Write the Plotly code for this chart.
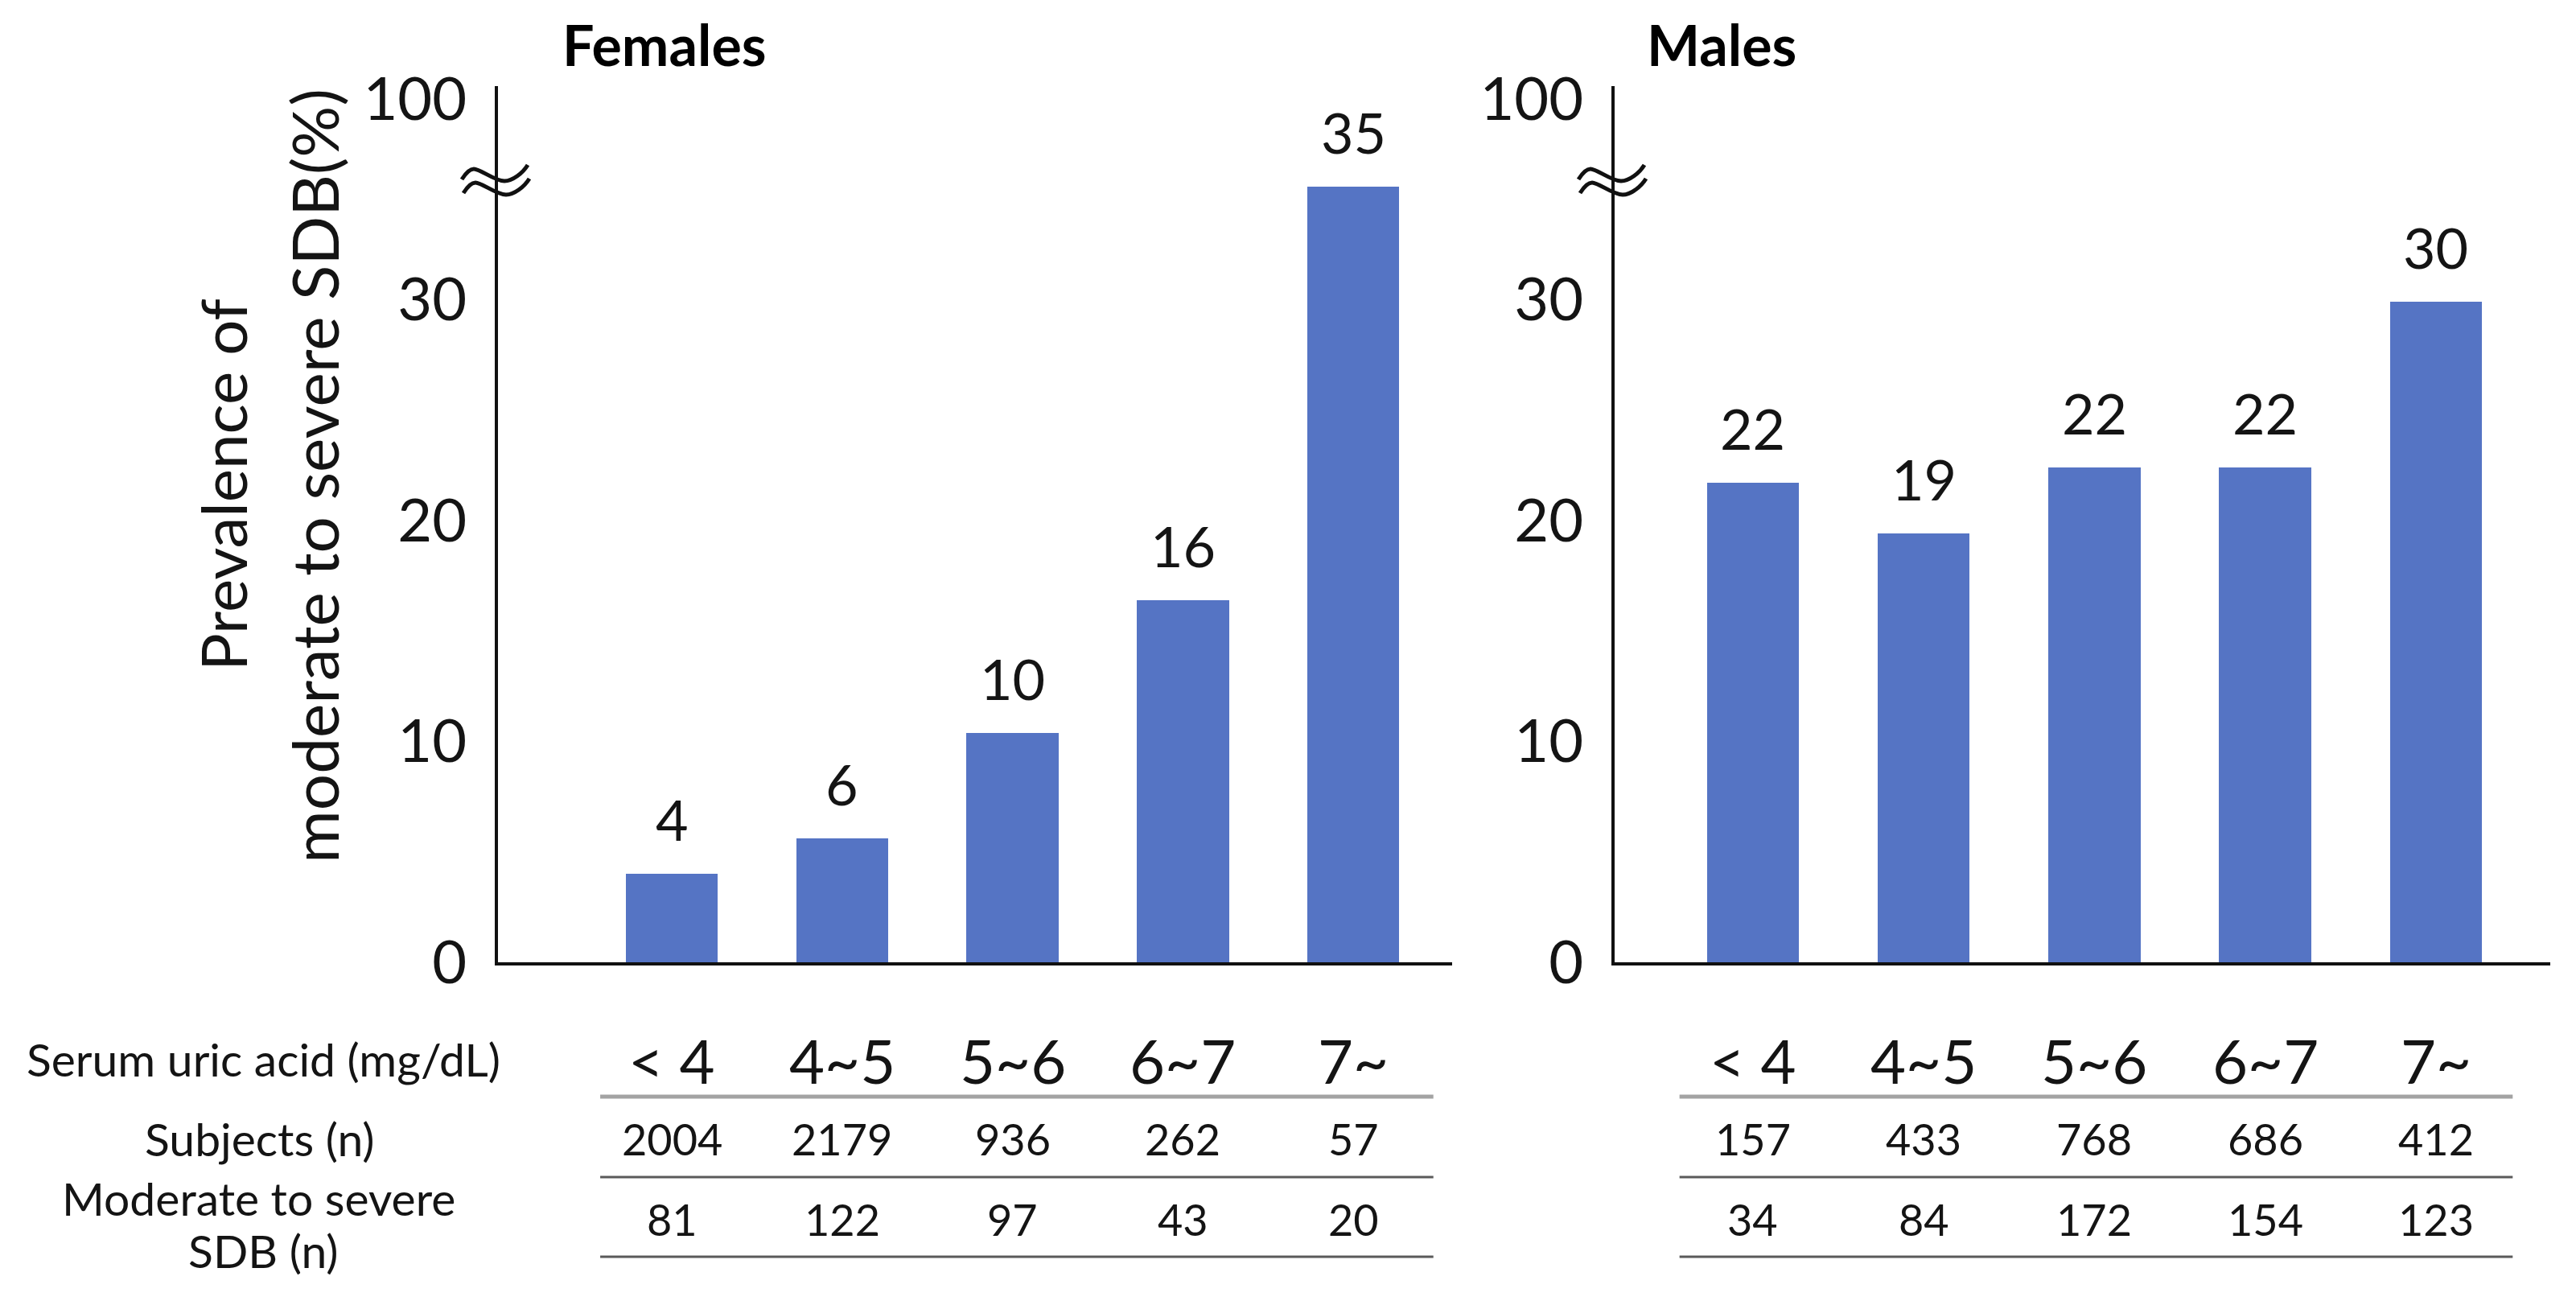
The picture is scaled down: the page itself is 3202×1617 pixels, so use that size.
import plotly.graph_objects as go

# ---------------- data ----------------
categories = ["< 4", "4~5", "5~6", "6~7", "7~"]
female_prev = [4.0, 5.6, 10.4, 16.4, 35.1]
male_prev = [21.7, 19.4, 22.4, 22.4, 29.9]
female_subjects = [2004, 2179, 936, 262, 57]
female_sdb = [81, 122, 97, 43, 20]
male_subjects = [157, 433, 768, 686, 412]
male_sdb = [34, 84, 172, 154, 123]
ytick_vals = [0, 10, 20, 30, 39.07]
ytick_text = ["0", "10", "20", "30", "100"]
break_value = 35.37
row_labels = ["Serum uric acid (mg/dL)", "Subjects (n)", "Moderate to severe", "SDB (n)"]
ytitle_lines = ["Prevalence of", "moderate to severe SDB(%)"]
panel_titles = ["Females", "Males"]

# ---------------- style / page geometry ----------------
PAGE_W, PAGE_H = 3202, 1617
OFF = 8                      # default body margin of the html page
W, H = PAGE_W - 2 * OFF, PAGE_H - 2 * OFF
BAR = "#5574C4"
TXT = "#141414"
FONT = "Lato, 'Open Sans', sans-serif"


def px_x(p):
    return (p - OFF) / W


def px_y(p):
    return 1 - (p - OFF) / H


fig = go.Figure()
fig.add_trace(go.Bar(x=categories, y=female_prev, marker=dict(color=BAR, line=dict(width=0)),
                     width=0.54, xaxis="x", yaxis="y", hoverinfo="x+y"))
fig.add_trace(go.Bar(x=categories, y=male_prev, marker=dict(color=BAR, line=dict(width=0)),
                     width=0.54, xaxis="x2", yaxis="y2", hoverinfo="x+y"))

Y_TOP, Y_BOT = 107, 1196
ydom = [px_y(Y_BOT), px_y(Y_TOP)]
yrange = [0, 39.67]
ppu_y = (Y_BOT - Y_TOP) / (yrange[1] - yrange[0])
axis_common_y = dict(range=yrange, domain=ydom, showgrid=False, zeroline=False,
                     showline=True, linecolor="#111", linewidth=4, ticks="",
                     tickvals=ytick_vals, ticktext=ytick_text, automargin=False,
                     tickfont=dict(family=FONT, size=74, color=TXT),
                     ticklabelstandoff=20, fixedrange=True)
axis_common_x = dict(type="category", categoryorder="array", categoryarray=categories,
                     showgrid=False, zeroline=False, showline=True, linecolor="#111",
                     linewidth=4, ticks="", showticklabels=False, fixedrange=True,
                     automargin=False)

fx_range = [-1.02, 4.58]
mx_range = [-0.81, 4.67]
fx_dom = [619, 1805]
mx_dom = [2007, 3170]
fig.update_layout(
    width=W, height=H, autosize=False,
    margin=dict(l=0, r=0, t=0, b=0, pad=0, autoexpand=False),
    paper_bgcolor="white", plot_bgcolor="white", showlegend=False, bargap=0,
    xaxis=dict(axis_common_x, domain=[px_x(fx_dom[0]), px_x(fx_dom[1])], range=fx_range, anchor="y"),
    yaxis=dict(axis_common_y, anchor="x"),
    xaxis2=dict(axis_common_x, domain=[px_x(mx_dom[0]), px_x(mx_dom[1])], range=mx_range, anchor="y2"),
    yaxis2=dict(axis_common_y, anchor="x2"),
)

ann = []
shapes = []

# bar value labels
for xr, yr, vals in (("x", "y", female_prev), ("x2", "y2", male_prev)):
    for c, v in zip(categories, vals):
        ann.append(dict(x=c, y=v, xref=xr, yref=yr, text=str(int(round(v))), showarrow=False,
                        yanchor="bottom", yshift=24, font=dict(family=FONT, size=70, color=TXT)))

# panel titles (kept fully inside the figure)
ann.append(dict(x=px_x(826), y=px_y(55), xref="paper", yref="paper", text="<b>%s</b>" % panel_titles[0],
                showarrow=False, xanchor="center", yanchor="middle", borderpad=0,
                font=dict(family=FONT, size=70, color="#000")))
ann.append(dict(x=px_x(2140), y=px_y(55), xref="paper", yref="paper", text="<b>%s</b>" % panel_titles[1],
                showarrow=False, xanchor="center", yanchor="middle", borderpad=0,
                font=dict(family=FONT, size=70, color="#000")))

# y title (two lines)
for xpix, ypix, fs, line in zip((277, 390), (603, 592), (78, 80), ytitle_lines):
    ann.append(dict(x=px_x(xpix), y=px_y(ypix), xref="paper", yref="paper", text=line,
                    showarrow=False, textangle=-90, xanchor="center", yanchor="middle",
                    font=dict(family=FONT, size=fs, color=TXT)))

# table
row_y = [1317, 1415, 1515]
for xr, subj, sdb in (("x", female_subjects, female_sdb), ("x2", male_subjects, male_sdb)):
    for i, c in enumerate(categories):
        ann.append(dict(x=c, y=px_y(row_y[0]), xref=xr, yref="paper",
                        text=c.replace("<", "&lt;"), showarrow=False, yanchor="middle",
                        font=dict(family=FONT, size=76, color=TXT)))
        ann.append(dict(x=c, y=px_y(row_y[1]), xref=xr, yref="paper", text=str(subj[i]),
                        showarrow=False, yanchor="middle", font=dict(family=FONT, size=54, color=TXT)))
        ann.append(dict(x=c, y=px_y(row_y[2]), xref=xr, yref="paper", text=str(sdb[i]),
                        showarrow=False, yanchor="middle", font=dict(family=FONT, size=54, color=TXT)))

# row labels
for (xpix, ypix), lab in zip(((327, 1316), (323, 1415), (321, 1489), (327, 1554)), row_labels):
    ann.append(dict(x=px_x(xpix), y=px_y(ypix), xref="paper", yref="paper", text=lab,
                    showarrow=False, xanchor="center", yanchor="middle",
                    font=dict(family=FONT, size=57, color=TXT)))

# table rules
for xr, (x0, x1) in (("x", (-0.42, 4.47)), ("x2", (-0.43, 4.45))):
    shapes.append(dict(type="line", xref=xr, yref="paper", x0=x0, x1=x1,
                       y0=px_y(1363), y1=px_y(1363), line=dict(color="#a3a3a3", width=5)))
    for yp in (1463, 1562):
        shapes.append(dict(type="line", xref=xr, yref="paper", x0=x0, x1=x1,
                           y0=px_y(yp), y1=px_y(yp), line=dict(color="#5a5a5a", width=3)))

# axis break symbols (two waves): x offsets in pixels from the axis, y in data units
wave_pts = [(-43, 2), (-38, 10), (-33, 15), (-28, 15), (-20, 15), (-2, 0), (10, 0),
            (20, 0), (33, 10), (39, 20)]
for yr, axis_px in (("y", fx_dom[0]), ("y2", mx_dom[0])):
    for ox, oy in ((0, 0), (2, -17)):
        pts = [(px_x(axis_px - 2 + px + ox), break_value + (py + oy) / ppu_y) for px, py in wave_pts]
        s = "M %.6f,%.5f" % pts[0]
        for k in range(1, len(pts), 3):
            s += " C %.6f,%.5f %.6f,%.5f %.6f,%.5f" % (pts[k] + pts[k + 1] + pts[k + 2])
        shapes.append(dict(type="path", xref="paper", yref=yr, path=s,
                           line=dict(color="#111", width=5)))

fig.update_layout(annotations=ann, shapes=shapes)
fig.write_html("out.html", config={"responsive": False})
